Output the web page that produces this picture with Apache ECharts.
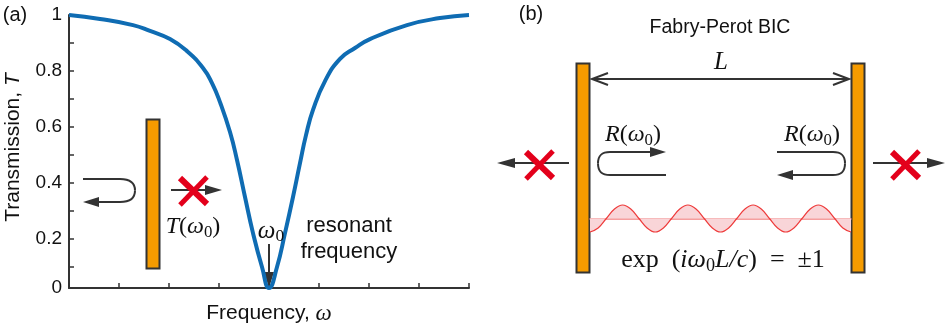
<!DOCTYPE html>
<html>
<head>
<meta charset="utf-8">
<title>Fabry-Perot BIC</title>
<style>
    html, body { margin: 0; padding: 0; background: #fff; }
    #main { width: 946px; height: 330px; }
</style>
<script src="https://cdn.jsdelivr.net/npm/echarts@6/dist/echarts.min.js"></script>
</head>
<body>
<div id="main"></div>
<script>
    // transmission curve
    var freq = [0, 0.62, 1.28, 1.62, 2.02, 2.36, 2.68, 2.86, 3.02, 3.22, 3.36, 3.52, 3.68, 3.86, 4, 4.16, 4.32, 4.48, 4.62, 4.74, 4.88, 5.12, 5.42, 5.72, 6.02, 6.76, 7.42, 8];
    var trans = [1, 0.986, 0.964, 0.943, 0.914, 0.871, 0.811, 0.757, 0.689, 0.582, 0.482, 0.35, 0.221, 0.1, 0.025, 0.1, 0.221, 0.35, 0.471, 0.571, 0.661, 0.764, 0.843, 0.882, 0.914, 0.964, 0.989, 1];
    // the "0" tick of the original sits a little above where even spacing would put it
    var yBottom = 0.025;
    var yTicks = [0.025, 0.1, 0.2, 0.3, 0.4, 0.5, 0.6, 0.7, 0.8, 0.9, 1];
    var yLabels = [0.025, 0.2, 0.4, 0.6, 0.8, 1];
    // standing wave between the mirrors, one value per eighth of a period
    var wavePos = [0, 1, 2, 3, 4, 5, 6, 7, 8, 9, 10, 11, 12, 13, 14, 15, 16, 17, 18, 19, 20, 21, 22, 23, 24, 25, 26, 27, 28, 29, 30, 31, 32];
    var waveAmp = [-1, -0.7, 0, 0.7, 1, 0.7, 0, -0.7, -1, -0.7, 0, 0.7, 1, 0.7, 0, -0.7, -1, -0.7, 0, 0.7, 1, 0.7, 0, -0.7, -1, -0.7, 0, 0.7, 1, 0.7, 0, -0.7, -1];

    var dark = '#333333';
    var orange = '#F59B00';
    var red = '#E3001B';
    var serif = '"Liberation Serif", "DejaVu Serif", serif';
    var sans = '"Liberation Sans", Arial, sans-serif';

    function pairs(a, b) {
        var res = [];
        for (var i = 0; i < a.length; i++) {
            res.push([a[i], b[i]]);
        }
        return res;
    }

    function line(x1, y1, x2, y2, color, width) {
        return {
            type: 'line',
            shape: { x1: x1, y1: y1, x2: x2, y2: y2 },
            style: { stroke: color || dark, lineWidth: width || 2 }
        };
    }
    function head(points) {
        return { type: 'polygon', shape: { points: points }, style: { fill: dark } };
    }
    function chevron(points) {
        return { type: 'polyline', shape: { points: points }, style: { stroke: dark, lineWidth: 2, fill: null } };
    }
    function bend(x1, y1, cx1, cy1, cx2, cy2, x2, y2) {
        return {
            type: 'bezierCurve',
            shape: { x1: x1, y1: y1, cpx1: cx1, cpy1: cy1, cpx2: cx2, cpy2: cy2, x2: x2, y2: y2 },
            style: { stroke: dark, lineWidth: 2, fill: null }
        };
    }
    // reflected ray: top run, rounded end at xEnd, bottom run
    function uturn(xTop, xBottom, xStart, xEnd, yTop, yBottom) {
        var yMid = (yTop + yBottom) / 2;
        var d = xEnd > xStart ? 1 : -1;
        return [
            line(xTop, yTop, xStart, yTop),
            bend(xStart, yTop, xStart + d * 8, yTop, xEnd, yTop + 3, xEnd, yMid),
            bend(xEnd, yMid, xEnd, yBottom - 3, xStart + d * 8, yBottom, xStart, yBottom),
            line(xStart, yBottom, xBottom, yBottom)
        ];
    }
    function mirror(x, y, w, h) {
        return { type: 'rect', shape: { x: x, y: y, width: w, height: h }, style: { fill: orange, stroke: dark, lineWidth: 2 } };
    }
    function cross(cx, cy) {
        return [
            line(cx - 13, cy - 13, cx + 14, cy + 13, red, 6),
            line(cx + 14, cy - 14, cx - 13, cy + 14, red, 5)
        ];
    }
    function label(x, y, text, size, align) {
        return {
            type: 'text', x: x, y: y, z: 10,
            style: { text: text, font: size + 'px ' + sans, fill: '#111', align: align || 'center', verticalAlign: 'middle' }
        };
    }
    function math(x, y, text, size) {
        return {
            type: 'text', x: x, y: y, z: 10,
            style: {
                text: text, align: 'center', verticalAlign: 'middle', fill: '#111',
                font: size + 'px ' + serif,
                rich: {
                    i: { fontFamily: serif, fontSize: size, fontStyle: 'italic', fill: '#111', lineHeight: size + 4 },
                    r: { fontFamily: serif, fontSize: size, fill: '#111', lineHeight: size + 4 },
                    s: { fontFamily: serif, fontSize: size * 0.7, fill: '#111', verticalAlign: 'bottom', lineHeight: size * 0.7 }
                }
            }
        };
    }

    var shapes = [
        label(15, 15, '(a)', 20),
        label(531, 14, '(b)', 20),
        label(720, 28, 'Fabry-Perot BIC', 19.5),
        label(349, 226, 'resonant', 22),
        label(349, 252, 'frequency', 22),

        // panel a, single mirror
        mirror(146.5, 119.5, 13, 149),
        head([[83, 202], [99, 197], [99, 207]]),
        line(171, 190, 208, 190),
        head([[222, 190], [205, 185], [205, 195]]),
        math(193, 227, '{i|T}{r|(}{i|ω}{s|0}{r|)}', 24),
        math(271, 231, '{i|ω}{s|0}', 25),
        line(269, 244, 269, 274),
        head([[269, 288], [264, 272], [274, 272]]),

        // panel b, the cavity
        mirror(576.5, 63.5, 13, 209),
        mirror(851.5, 63.5, 13, 209),
        line(592, 79, 849, 79),
        chevron([[608, 73], [592, 79], [608, 85]]),
        chevron([[833, 73], [849, 79], [833, 85]]),
        math(721, 62, '{i|L}', 25),
        math(633, 135, '{i|R}{r|(}{i|ω}{s|0}{r|)}', 24),
        math(812, 135, '{i|R}{r|(}{i|ω}{s|0}{r|)}', 24),
        head([[666, 152], [650, 147], [650, 157]]),
        head([[777, 175], [793, 170], [793, 180]]),
        line(569, 163, 512, 163),
        head([[497, 163], [515, 158], [515, 168]]),
        line(873, 163, 930, 163),
        head([[945, 163], [927, 158], [927, 168]]),
        math(723, 260, '{r|exp  (}{i|iω}{s|0}{i|L/c}{r|)  =  ±1}', 26)
    ].concat(
        uturn(83, 98, 120, 135, 179, 202),
        uturn(652, 666, 610, 598, 152, 175),
        uturn(777, 791, 833, 845, 152, 175),
        cross(193, 191), cross(539, 165), cross(905, 165)
    );

    var myChart = echarts.init(document.getElementById('main'));

    var option = {
        animation: false,
        backgroundColor: '#fff',
        grid: [
            { left: 69, top: 15, width: 400, height: 273, outerBoundsMode: 'none' },
            { left: 590, top: 205, width: 261, height: 27, outerBoundsMode: 'none' }
        ],
        xAxis: [{
            type: 'value',
            gridIndex: 0,
            min: 0,
            max: 8,
            interval: 1,
            name: 'Frequency, {i|ω}',
            nameLocation: 'middle',
            nameGap: 14,
            nameTextStyle: {
                fontFamily: sans, fontSize: 21, color: '#111',
                rich: { i: { fontFamily: serif, fontSize: 23, fontStyle: 'italic', color: '#111' } }
            },
            axisLine: { show: true, lineStyle: { color: dark, width: 2 } },
            axisTick: { show: true, inside: true, length: 5, lineStyle: { color: dark, width: 1.5 } },
            axisLabel: { show: false },
            splitLine: { show: false }
        }, {
            type: 'value',
            gridIndex: 1,
            min: 0,
            max: 32,
            axisLine: { show: true, onZero: true, lineStyle: { color: '#F28080', width: 1.5 } },
            axisTick: { show: false },
            axisLabel: { show: false },
            splitLine: { show: false }
        }],
        yAxis: [{
            type: 'value',
            gridIndex: 0,
            min: yBottom,
            max: 1,
            name: 'Transmission, {i|T}',
            nameLocation: 'middle',
            nameGap: 45,
            nameRotate: 90,
            nameTextStyle: {
                fontFamily: sans, fontSize: 21, color: '#111',
                padding: [0, 0, 0, 8],
                rich: { i: { fontFamily: sans, fontSize: 21, fontStyle: 'italic', color: '#111' } }
            },
            axisLine: { show: true, lineStyle: { color: dark, width: 2 } },
            axisTick: { show: true, inside: true, length: 5, customValues: yTicks, lineStyle: { color: dark, width: 1.5 } },
            axisLabel: {
                customValues: yLabels,
                fontFamily: sans,
                fontSize: 19,
                color: '#111',
                margin: 7,
                formatter: function (v) {
                    return v === yBottom ? '0' : String(v);
                }
            },
            splitLine: { show: false }
        }, {
            type: 'value',
            gridIndex: 1,
            min: -1,
            max: 1,
            axisLine: { show: false },
            axisTick: { show: false },
            axisLabel: { show: false },
            splitLine: { show: false }
        }],
        series: [{
            name: 'T',
            type: 'line',
            xAxisIndex: 0,
            yAxisIndex: 0,
            data: pairs(freq, trans),
            smooth: 0.5,
            showSymbol: false,
            clip: false,
            z: 5,
            lineStyle: { color: '#0F6CB3', width: 4 }
        }, {
            name: 'wave',
            type: 'line',
            xAxisIndex: 1,
            yAxisIndex: 1,
            data: pairs(wavePos, waveAmp),
            smooth: 0.4,
            showSymbol: false,
            clip: false,
            lineStyle: { color: '#EE3B3B', width: 1.2 },
            areaStyle: { origin: 0, color: '#F9D5D8', opacity: 1 }
        }],
        graphic: { elements: shapes }
    };

    myChart.setOption(option);
</script>
</body>
</html>
